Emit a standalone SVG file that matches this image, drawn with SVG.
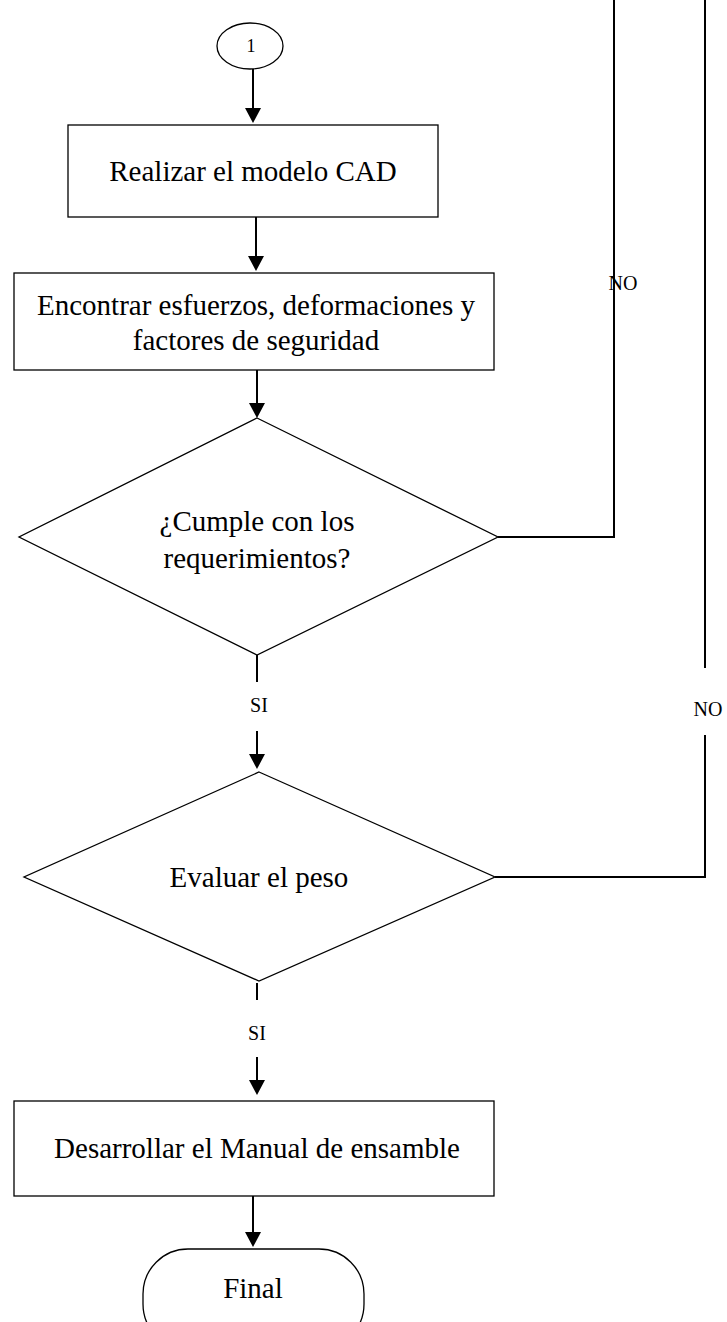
<svg xmlns="http://www.w3.org/2000/svg" width="727" height="1322" viewBox="0 0 727 1322">
<defs>
<style>
.s{fill:#fff;stroke:#000;stroke-width:1.3}
.c{fill:none;stroke:#000;stroke-width:2}
.h{fill:#000;stroke:none}
.t{font-family:"Liberation Serif","Times New Roman",serif;font-size:29px;fill:#000;text-anchor:middle}
.l{font-family:"Liberation Serif","Times New Roman",serif;font-size:20px;fill:#000;text-anchor:middle}
</style>
</defs>
<g id="connectors">
<path class="c" d="M253,69 L253,110"/>
<path class="h" d="M245,108 L261,108 L253,123 z"/>
<path class="c" d="M256,217 L256,258"/>
<path class="h" d="M248,256 L264,256 L256,271 z"/>
<path class="c" d="M257,370 L257,405"/>
<path class="h" d="M249,403 L265,403 L257,418 z"/>
<path class="c" d="M498,537 L614,537 L614,0"/>
<path class="c" d="M257,655 L257,682"/>
<path class="c" d="M257,731 L257,756"/>
<path class="h" d="M249,754 L265,754 L257,769 z"/>
<path class="c" d="M495,877 L705,877 L705,735"/>
<path class="c" d="M705,668 L705,0"/>
<path class="c" d="M257,983 L257,1000"/>
<path class="c" d="M257,1057 L257,1082"/>
<path class="h" d="M249,1080 L265,1080 L257,1095 z"/>
<path class="c" d="M253,1196 L253,1234"/>
<path class="h" d="M245,1232 L261,1232 L253,1247 z"/>
<text class="l" x="623" y="290">NO</text>
<text class="l" x="708" y="716">NO</text>
<text class="l" x="259" y="712">SI</text>
<text class="l" x="257" y="1040">SI</text>
</g>
<g id="n1">
<ellipse class="s" cx="250" cy="46" rx="33" ry="23"/>
<text x="251" y="52" style="font-family:'Liberation Serif','Times New Roman',serif;font-size:18px;text-anchor:middle">1</text>
</g>
<g id="n2">
<rect class="s" x="68" y="125" width="370" height="92"/>
<text class="t" x="253" y="181">Realizar el modelo CAD</text>
</g>
<g id="n3">
<rect class="s" x="14" y="273" width="480" height="97"/>
<text class="t" x="256" y="315">Encontrar esfuerzos, deformaciones y</text>
<text class="t" x="256" y="350">factores de seguridad</text>
</g>
<g id="n4">
<polygon class="s" points="257,418 498,537 257,655 19,537"/>
<text class="t" x="257" y="531">¿Cumple con los</text>
<text class="t" x="257" y="568">requerimientos?</text>
</g>
<g id="n5">
<polygon class="s" points="259,772 495,877 259,981 24,877"/>
<text class="t" x="259" y="887">Evaluar el peso</text>
</g>
<g id="n6">
<rect class="s" x="14" y="1101" width="480" height="95"/>
<text class="t" x="257" y="1158">Desarrollar el Manual de ensamble</text>
</g>
<g id="n7">
<rect class="s" x="143" y="1249" width="221" height="100" rx="45" ry="45"/>
<text class="t" x="253" y="1298">Final</text>
</g>
</svg>
